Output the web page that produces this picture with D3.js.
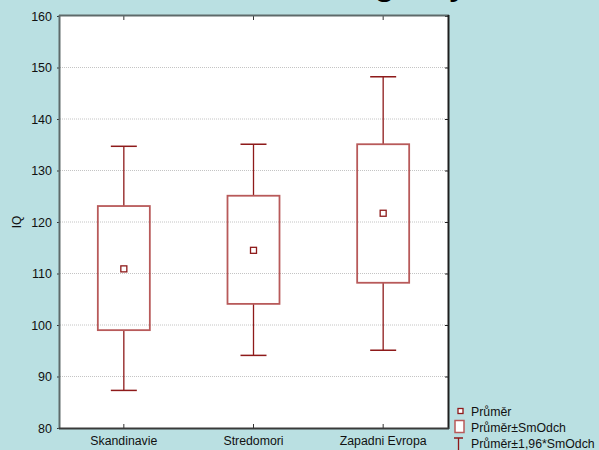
<!DOCTYPE html>
<html><head><meta charset="utf-8">
<script src="https://cdn.jsdelivr.net/npm/d3@7/dist/d3.min.js"></script>
<style>body{margin:0;background:#bae0e2;overflow:hidden}svg{display:block}</style>
</head><body>
<script>
const categories = ["Skandinavie", "Stredomori", "Zapadni Evropa"];
const means      = [110.9, 114.5, 121.7];
const boxLow     = [99.0, 104.1, 108.2];
const boxHigh    = [123.1, 125.1, 135.1];
const whiskLow   = [87.3, 94.1, 95.1];
const whiskHigh  = [134.7, 135.1, 148.2];
const yTicks     = [80, 90, 100, 110, 120, 130, 140, 150, 160];
const legendLabels = ["Průměr", "Průměr±SmOdch", "Průměr±1,96*SmOdch"];
const titleText  = "regiony";

const W = 599, H = 450;
const m = {left: 60, right: 448, top: 16, bottom: 428};
const FONT = "'Liberation Sans', Arial, sans-serif";
const svg = d3.select("body").append("svg").attr("width", W).attr("height", H)
  .style("font-family", FONT);

svg.append("rect").attr("width", W).attr("height", H).attr("fill", "#bae0e2");

// clipped slide title (only descenders visible, as in the reference)
svg.append("text").attr("x", 338).attr("y", -6).attr("font-size", 40)
  .attr("fill", "#000").text(titleText);

const x = d3.scaleBand().domain(categories).range([m.left - 1, m.right]);
const y = d3.scaleLinear().domain([80, 160]).range([m.bottom, m.top]);

svg.append("rect").attr("x", m.left).attr("y", m.top)
  .attr("width", m.right - m.left).attr("height", m.bottom - m.top).attr("fill", "#fff");

// grid
svg.append("g").selectAll("line").data(yTicks.filter(d => d > 80 && d < 160)).join("line")
  .attr("x1", m.left).attr("x2", m.right).attr("y1", d => y(d)).attr("y2", d => y(d))
  .attr("stroke", "#c4c4c4").attr("stroke-width", 1).attr("stroke-dasharray", "1,1");

// y axis
const yAxis = d3.axisLeft(y).tickValues(yTicks).tickSize(3).tickPadding(5).tickFormat(d3.format("d"));
const ga = svg.append("g").attr("transform", `translate(${m.left},0)`).call(yAxis);
ga.select(".domain").remove();
ga.selectAll("line").attr("stroke", "#333");
ga.selectAll("text").attr("font-size", 12.5).attr("fill", "#111").attr("font-family", FONT);

// right ticks
const gr = svg.append("g").attr("transform", `translate(${m.right},0)`)
  .call(d3.axisLeft(y).tickValues(yTicks).tickSize(3).tickFormat(""));
gr.select(".domain").remove(); gr.selectAll("line").attr("stroke", "#222");

// x axis
const xAxis = d3.axisBottom(x).tickSize(0).tickPadding(8);
const gx = svg.append("g").attr("transform", `translate(0,${m.bottom})`).call(xAxis);
gx.select(".domain").remove();
gx.selectAll("text").attr("font-size", 12.3).attr("fill", "#111").attr("font-family", FONT);
// inward ticks bottom & top
svg.append("g").selectAll("line").data(categories).join("line")
  .attr("x1", d => x(d) + x.bandwidth() / 2).attr("x2", d => x(d) + x.bandwidth() / 2)
  .attr("y1", m.bottom - 4).attr("y2", m.bottom).attr("stroke", "#333");
svg.append("g").selectAll("line").data(categories).join("line")
  .attr("x1", d => x(d) + x.bandwidth() / 2).attr("x2", d => x(d) + x.bandwidth() / 2)
  .attr("y1", m.top).attr("y2", m.top + 4).attr("stroke", "#333");

// frame
svg.append("line").attr("x1", m.left - 1).attr("x2", m.right + 1).attr("y1", m.top - 0.5).attr("y2", m.top - 0.5)
  .attr("stroke", "#5e6a6a").attr("stroke-width", 2);
svg.append("line").attr("x1", m.left - 0.5).attr("x2", m.left - 0.5).attr("y1", m.top - 1).attr("y2", m.bottom + 1)
  .attr("stroke", "#5e6a6a").attr("stroke-width", 2);
svg.append("line").attr("x1", m.right + 0.5).attr("x2", m.right + 0.5).attr("y1", m.top - 1).attr("y2", m.bottom + 1)
  .attr("stroke", "#1e1e1e").attr("stroke-width", 2);
svg.append("line").attr("x1", m.left - 1).attr("x2", m.right + 1).attr("y1", m.bottom + 0.5).attr("y2", m.bottom + 0.5)
  .attr("stroke", "#3a3a3a").attr("stroke-width", 2);

// y label
svg.append("text").attr("transform", `translate(21,${(m.top + m.bottom) / 2}) rotate(-90)`)
  .attr("text-anchor", "middle").attr("font-size", 12).attr("fill", "#111").text("IQ");

// boxes
const data = categories.map((c, i) => ({c, mean: means[i], bl: boxLow[i], bh: boxHigh[i], wl: whiskLow[i], wh: whiskHigh[i]}));
const dark = "#8e1a1a", boxCol = "#b85a5a";
const bw = 52, cw = 26, ms = 6;
const g = svg.append("g").selectAll("g").data(data).join("g")
  .attr("transform", d => `translate(${x(d.c) + x.bandwidth() / 2},0)`);
g.append("line").attr("x1", 0).attr("x2", 0).attr("y1", d => y(d.wh)).attr("y2", d => y(d.bh)).attr("stroke", dark).attr("stroke-width", 1.3);
g.append("line").attr("x1", 0).attr("x2", 0).attr("y1", d => y(d.bl)).attr("y2", d => y(d.wl)).attr("stroke", dark).attr("stroke-width", 1.3);
g.append("line").attr("x1", -cw / 2).attr("x2", cw / 2).attr("y1", d => y(d.wh)).attr("y2", d => y(d.wh)).attr("stroke", dark).attr("stroke-width", 1.5);
g.append("line").attr("x1", -cw / 2).attr("x2", cw / 2).attr("y1", d => y(d.wl)).attr("y2", d => y(d.wl)).attr("stroke", dark).attr("stroke-width", 1.5);
g.append("rect").attr("x", -bw / 2).attr("width", bw).attr("y", d => y(d.bh)).attr("height", d => y(d.bl) - y(d.bh))
  .attr("fill", "none").attr("stroke", boxCol).attr("stroke-width", 1.8);
g.append("rect").attr("x", -ms / 2).attr("width", ms).attr("y", d => y(d.mean) - ms / 2).attr("height", ms)
  .attr("fill", "#fff").attr("stroke", dark).attr("stroke-width", 1.3);

// legend
const lg = svg.append("g");
lg.append("rect").attr("x", 458).attr("y", 408.5).attr("width", 5).attr("height", 5).attr("fill", "#fff").attr("stroke", dark).attr("stroke-width", 1.3);
lg.append("rect").attr("x", 455).attr("y", 420.5).attr("width", 9).attr("height", 12).attr("fill", "#fff").attr("stroke", boxCol).attr("stroke-width", 1.5);
lg.append("line").attr("x1", 454).attr("x2", 463).attr("y1", 438).attr("y2", 438).attr("stroke", dark).attr("stroke-width", 1.5);
lg.append("line").attr("x1", 458.5).attr("x2", 458.5).attr("y1", 438).attr("y2", 452).attr("stroke", dark).attr("stroke-width", 1.3);
lg.selectAll("text").data(legendLabels).join("text")
  .attr("x", 471).attr("y", (d, i) => 415.5 + i * 16).attr("font-size", 12.3).attr("fill", "#111").text(d => d);
</script>
</body></html>
